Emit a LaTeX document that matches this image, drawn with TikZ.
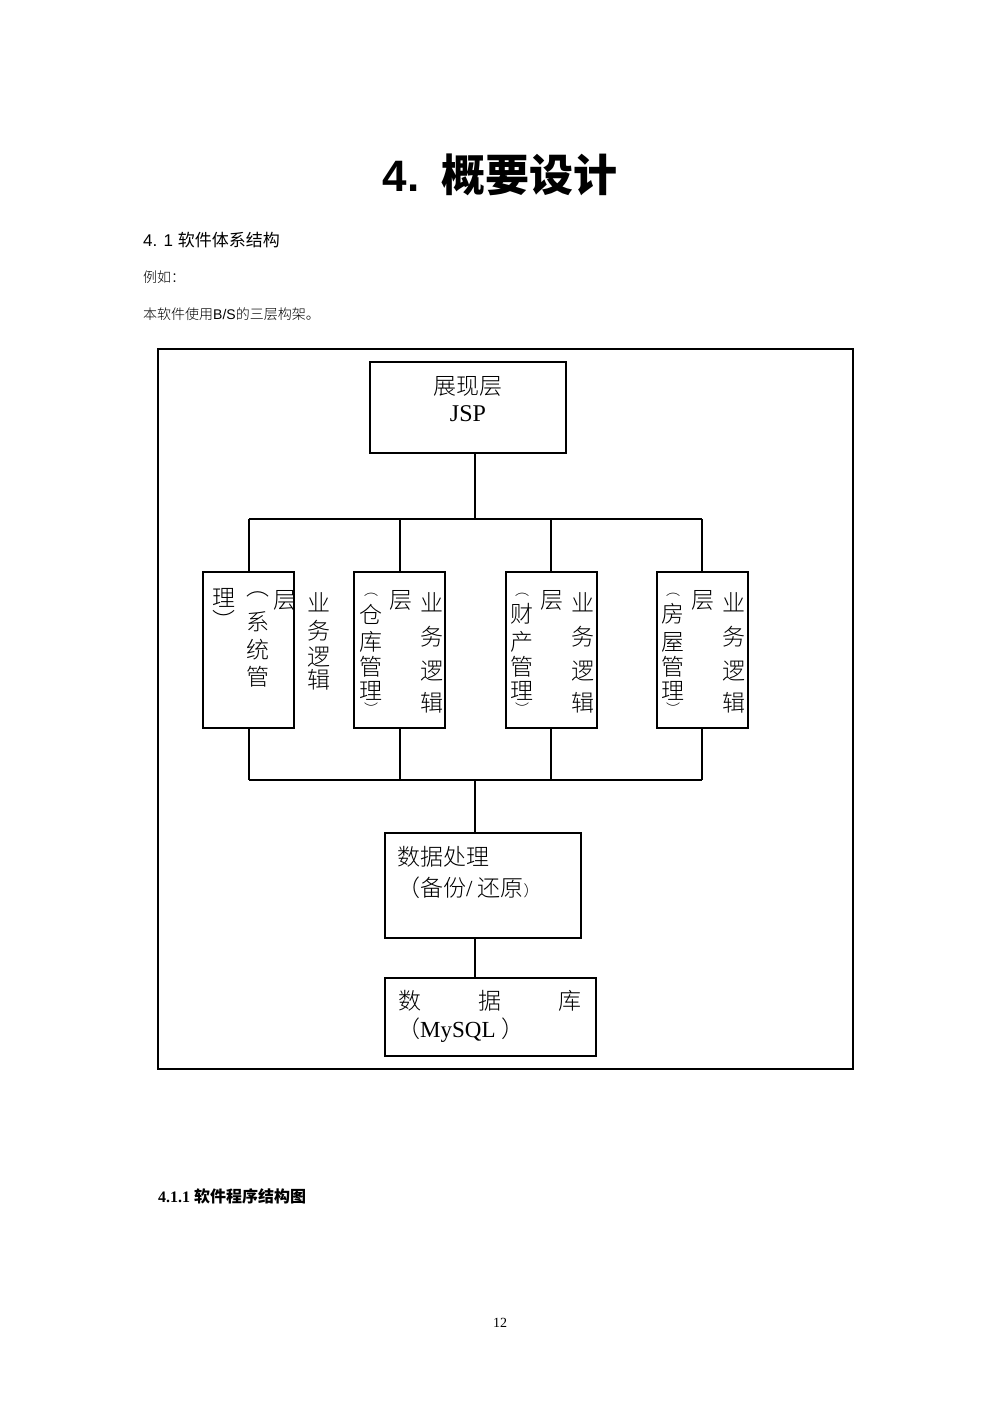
\documentclass[tikz,border=0pt]{standalone}
\usepackage{fontspec}
\setmainfont{Liberation Serif}
\newfontfamily\cjk{Noto Sans CJK SC}
\newfontfamily\cjkl{Noto Sans CJK SC Light}
\newfontfamily\hsans{Liberation Sans}
\begin{document}
\begin{tikzpicture}[x=1pt,y=-1pt,
  box/.style={draw,line width=1.2pt},
  ln/.style={line width=1.2pt},
  ch/.style={inner sep=0pt,font=\fontsize{23}{23}\cjkl\selectfont},
  sp/.style={inner sep=0pt,font=\fontsize{14}{14}\cjkl\selectfont}]
\useasboundingbox (0,0) rectangle (1000,1415);
\node[inner sep=0pt,font=\fontsize{44}{44}\hsans\bfseries] (title) at (500,175) {4.\hspace{22pt}{\cjk\bfseries 概要设计}};
\node[anchor=west,inner sep=0pt,font=\fontsize{17}{17}\hsans] (h41) at (143,240) {4. 1 {\cjk 软件体系结构}};
\node[anchor=west,inner sep=0pt,font=\fontsize{14}{14}\cjkl] (eg) at (143,277) {例如：};
\node[anchor=west,inner sep=0pt,font=\fontsize{14}{14}\cjkl] (intro) at (143,314) {本软件使用{\hsans B/S}的三层构架。};
\draw[line width=1.2pt] (158,349) rectangle (853,1069);
% top box
\draw[box] (370,362) rectangle (566,453);
\node[inner sep=0pt] (top) at (468,407) {};
\node[ch] (t1) at (468,386) {展现层};
\node[inner sep=0pt,font=\fontsize{24}{24}\selectfont] (t2) at (468,414) {JSP};
\coordinate (tb) at (475,453);
\coordinate (bus1) at (475,519);
\draw[ln] (tb) -- (bus1);
\draw[ln] (249,519) -- (702,519);
\foreach \x in {249,400,551,702} {
  \draw[ln] (\x,519) -- (\x,572);
  \draw[ln] (\x,728) -- (\x,780);
}
\draw[ln] (249,780) -- (702,780);
\draw[box] (203,572) rectangle (294,728);
\draw[box] (354,572) rectangle (445,728);
\draw[box] (506,572) rectangle (597,728);
\draw[box] (657,572) rectangle (748,728);
% box1
\node[ch] at (319,602) {业};
\node[ch] at (319,631) {务};
\node[ch] at (319,657) {逻};
\node[ch] at (319,680) {辑};
\node[ch] at (285,600) {层};
\node[ch] at (258,594) {︵};
\node[ch] at (258,622) {系};
\node[ch] at (258,650) {统};
\node[ch] at (258,677) {管};
\node[ch] at (224,598) {理};
\node[ch] at (224,620) {︶};
% boxes 2-4
\foreach \bx/\a/\b in {0/仓/库,151/财/产,302/房/屋} {
  \node[ch] at (432+\bx,602) {业};
  \node[ch] at (432+\bx,637) {务};
  \node[ch] at (432+\bx,671) {逻};
  \node[ch] at (432+\bx,703) {辑};
  \node[ch] at (401+\bx,600) {层};
  \node[sp] at (371+\bx,595) {︵};
  \node[ch] at (371+\bx,614) {\a};
  \node[ch] at (371+\bx,642) {\b};
  \node[ch] at (371+\bx,667) {管};
  \node[ch] at (371+\bx,691) {理};
  \node[sp] at (371+\bx,709) {︶};
}
\draw[ln] (475,780) -- (475,833);
\draw[box] (385,833) rectangle (581,938);
\node[ch,anchor=west] (d1) at (397,857) {数据处理};
\node[ch,anchor=west] (d2) at (397,888) {（备份{\fontsize{23}{23}\selectfont\rmfamily/} 还原{\fontsize{15}{15}\selectfont ）}};
\draw[ln] (475,938) -- (475,978);
\draw[box] (385,978) rectangle (596,1056);
\node[ch] at (410,1001) {数};
\node[ch] at (490,1001) {据};
\node[ch] at (570,1001) {库};
\node[ch,anchor=west] (m) at (397,1030) {（{\rmfamily MySQL }）};
\node[anchor=west,inner sep=0pt,font=\fontsize{16}{16}\rmfamily\bfseries] (h411) at (158,1196) {4.1.1 {\cjk\bfseries 软件程序结构图}};
\node[inner sep=0pt,font=\fontsize{14}{14}\selectfont] (pg) at (500,1323) {12};
\end{tikzpicture}
\end{document}
